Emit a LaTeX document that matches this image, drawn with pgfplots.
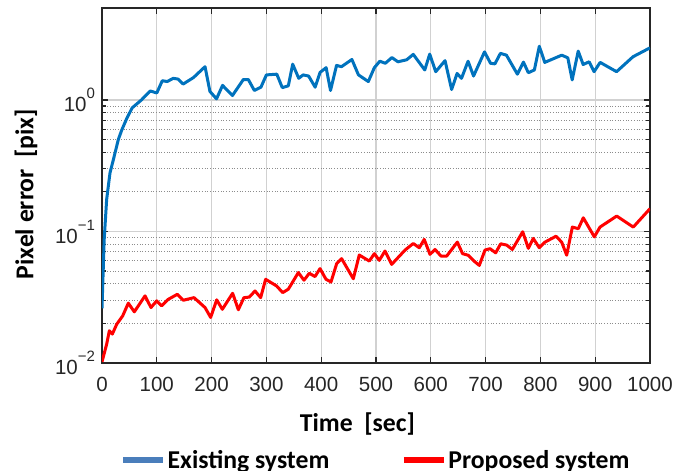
\documentclass[border=0pt]{standalone}
\usepackage{pgfplots}
\pgfplotsset{compat=1.18}
\usepackage{fontspec}
\setmainfont{Liberation Sans}
\newfontfamily\calfont{Carlito}
\definecolor{mblue}{RGB}{0,114,189}
\definecolor{legblue}{RGB}{74,126,187}
\definecolor{axgray}{RGB}{38,38,38}
\newcommand{\sexp}[1]{10\raisebox{13pt}{\fontsize{15}{15}\selectfont #1}}
\begin{document}
\begin{tikzpicture}
\begin{axis}[
  name=ax,
  at={(0pt,0pt)}, anchor=south west,
  scale only axis,
  width=548pt, height=355pt,
  xmin=0, xmax=1000,
  ymode=log, ymin=0.01, ymax=5,
  xtick={0,100,...,1000},
  ytick={0.01,0.1,1},
  yticklabels={\sexp{−2},\sexp{−1},\sexp{0}},
  /pgf/number format/assume math mode=true,
  /pgf/number format/set thousands separator={},
  tick label style={font=\fontsize{20.5}{22}\selectfont, text=axgray},
  xticklabel style={anchor=base, yshift=-28.5pt},
  yticklabel style={anchor=east, xshift=-3.5pt},
  tick align=inside,
  major tick length=6pt, minor tick length=4pt,
  every tick/.style={axgray, line width=1.2pt},
  axis line style={axgray, line width=1.5pt},
  grid=both,
  major grid style={color=black!18, line width=1.2pt},
  minor grid style={color=black!45, line width=0.9pt, dash pattern=on 0.9pt off 1.8pt},
  xlabel={Time\ \ [sec]},
  ylabel={Pixel error\ \ [pix]},
  label style={font=\calfont\bfseries\fontsize{25.7}{27}\selectfont, text=black},
  x label style={at={(axis description cs:0.4662,-0.1935)}, anchor=base},
  y label style={at={(axis description cs:-0.125,0.476)}, anchor=base, rotate=0},
  legend columns=2,
  legend image code/.code={\draw[line width=6pt,#1] (0pt,0pt) -- (40pt,0pt);},
  legend style={draw=none, fill=none, inner sep=0pt,
    at={(axis description cs:0.0328,-0.2732)}, anchor=west,
    font=\calfont\bfseries\fontsize{25.7}{27}\selectfont,
    nodes={inner sep=1.5pt},
    /tikz/every even column/.append style={column sep=70pt}},
]
\addlegendimage{legblue}
\addlegendentry{Existing system}
\addlegendimage{red}
\addlegendentry{Proposed system}
\addplot[forget plot, mblue, line width=3pt, line join=round] coordinates {
(0,0.026) (4,0.087) (8.5,0.175) (14.6,0.279) (20.7,0.351) (29.8,0.50) (36,0.59) (45,0.72) (55,0.87) (72,1.0) (88,1.17) (100,1.13) (110,1.40) (119,1.38) (130,1.46) (139,1.44) (148,1.32) (167,1.48) (188,1.79) (197,1.16) (209,1.02) (220,1.29) (238,1.08) (258,1.43) (267,1.43) (278,1.18) (290,1.25) (300,1.55) (319,1.57) (329,1.24) (340,1.28) (348,1.87) (359,1.46) (367,1.55) (377,1.52) (389,1.25) (398,1.62) (409,1.76) (417,1.18) (428,1.83) (437,1.79) (456,2.03) (468,1.55) (486,1.38) (497,1.76) (507,1.97) (517,1.90) (529,2.10) (540,1.95) (556,2.02) (568,2.22) (589,1.69) (598,2.23) (609,1.64) (626,1.99) (638,1.20) (648,1.59) (656,1.46) (668,1.97) (678,1.52) (698,2.32) (709,1.90) (717,1.88) (727,2.26) (738,2.19) (758,1.57) (769,1.94) (778,1.61) (789,1.69) (798,2.56) (808,1.93) (839,2.19) (850,2.09) (858,1.42) (869,2.35) (878,1.86) (889,1.95) (898,1.64) (909,1.93) (939,1.64) (969,2.13) (1000,2.49)
};
\addplot[forget plot, red, line width=3pt, line join=round] coordinates {
(0,0.0102) (8.5,0.0139) (13.4,0.0176) (18.9,0.0166) (26.8,0.0197) (37.7,0.0228) (48,0.0285) (59,0.0245) (78.5,0.0324) (89.4,0.0264) (99.8,0.0297) (108.9,0.0272) (121,0.0305) (137.5,0.0333) (148.4,0.0300) (167.9,0.0314) (188,0.0264) (198.3,0.0222) (209.3,0.0302) (219.6,0.0256) (238.4,0.0339) (248.8,0.0254) (259,0.0314) (268.8,0.0317) (279.2,0.0353) (289.5,0.0314) (298.6,0.0433) (318.7,0.0385) (329.7,0.0343) (340,0.0364) (358.3,0.0487) (368.6,0.0426) (378.3,0.0481) (388.7,0.0454) (397.8,0.0522) (408.8,0.0433) (417.9,0.0413) (428.2,0.0569) (437.3,0.0621) (458.6,0.0437) (469.5,0.0662) (487.8,0.0596) (497,0.0678) (506,0.0603) (516.4,0.071) (528.6,0.0562) (553,0.0722) (568,0.081) (579,0.0752) (588,0.087) (598.5,0.067) (607.7,0.073) (618.6,0.065) (629,0.065) (648.4,0.083) (658,0.0678) (668.4,0.0659) (678.8,0.0596) (688.5,0.0552) (698.9,0.0722) (708,0.074) (718.4,0.0688) (727.5,0.0806) (738.5,0.0788) (748.8,0.073) (767.7,0.0995) (778,0.0745) (787,0.0885) (798,0.0752) (808.4,0.083) (828.5,0.092) (838.8,0.083) (848,0.066) (858.3,0.108) (869.2,0.105) (878.3,0.127) (898.4,0.091) (908.8,0.108) (939.2,0.131) (969.5,0.108) (1000,0.149)
};
\end{axis}
\pgfresetboundingbox
\path (-102pt,-108pt) rectangle (587pt,363pt);
\end{tikzpicture}
\end{document}
